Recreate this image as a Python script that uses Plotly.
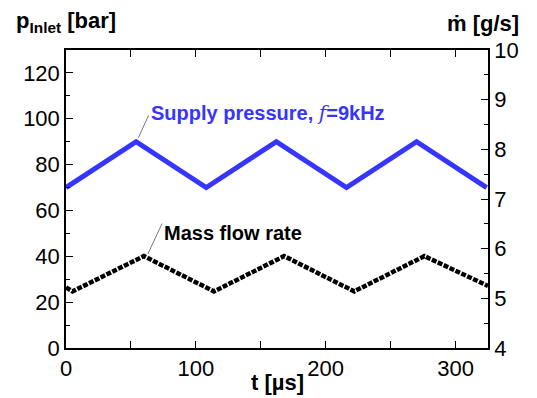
import plotly.graph_objects as go

# Supply pressure [bar] vs time [us]
t_p = [0, 54, 108, 162, 216, 270, 324]
p_inlet = [70, 90, 70, 90, 70, 90, 70]

# Mass flow rate [g/s] vs time [us]
t_m = [0, 5, 60, 114, 168, 222, 276, 325]
m_dot = [5.22, 5.14, 5.85, 5.14, 5.85, 5.14, 5.85, 5.25]

x_range = [0, 325]
y1_range = [0, 130]
y2_range = [4, 10]

AX = dict(family="Liberation Sans, Arial, sans-serif", size=22, color="black")

fig = go.Figure()
fig.add_trace(go.Scatter(x=t_p, y=p_inlet, mode="lines",
                         line=dict(color="#3535ff", width=5), yaxis="y"))
fig.add_trace(go.Scatter(x=t_m, y=m_dot, mode="lines",
                         line=dict(color="black", width=4.5, dash="5px,1.5px"), yaxis="y2"))

common = dict(showline=True, linecolor="black", linewidth=1.5, ticks="inside",
              tickcolor="black", ticklen=7, tickwidth=1.2, showgrid=False,
              zeroline=False, tickfont=AX)

fig.update_layout(
    width=537, height=398,
    margin=dict(l=66, r=49, t=50, b=50),
    paper_bgcolor="white", plot_bgcolor="white",
    showlegend=False,
    xaxis=dict(range=x_range, dtick=100, mirror="allticks",
               minor=dict(dtick=50, ticks="inside", ticklen=4, tickcolor="black"),
               **common),
    yaxis=dict(range=y1_range, dtick=20, tick0=0,
               minor=dict(dtick=10, ticks="inside", ticklen=4, tickcolor="black"),
               **common),
    yaxis2=dict(range=y2_range, dtick=1, overlaying="y", side="right",
                minor=dict(dtick=0.5, ticks="inside", ticklen=4, tickcolor="black"),
                **common),
)

BOLD = dict(family="Liberation Sans, Arial, sans-serif", size=22, color="black")
fig.add_annotation(text="<b>p<sub>Inlet</sub> [bar]</b>", xref="paper", yref="paper",
                   x=-0.123, y=1.0, xanchor="left", yanchor="bottom", yshift=12,
                   showarrow=False, font=BOLD)
fig.add_annotation(text="<b>ṁ [g/s]</b>", xref="paper", yref="paper",
                   x=1.0, y=1.0, xanchor="right", yanchor="bottom", yshift=12, xshift=33,
                   showarrow=False, font=BOLD)
fig.add_annotation(text="<b>t [µs]</b>", xref="paper", yref="paper",
                   x=0.5, y=0, xanchor="center", yanchor="top", yshift=-20,
                   showarrow=False, font=BOLD)

# leader lines
fig.add_annotation(x=55.7, y=91.7, xref="x", yref="y", text="", showarrow=True,
                   arrowhead=0, arrowwidth=0.8, arrowcolor="#555", ax=11, ay=-24)
fig.add_annotation(x=63, y=41, xref="x", yref="y", text="", showarrow=True,
                   arrowhead=0, arrowwidth=0.8, arrowcolor="#555", ax=15, ay=-32)

fig.add_annotation(x=64, y=102.5, xref="x", yref="y", xanchor="left", yanchor="middle",
                   showarrow=False,
                   text='<b>Supply pressure, </b><span style="font-family:DejaVu Serif;font-weight:normal"><i>f</i></span><b>=9kHz</b>',
                   font=dict(family="Liberation Sans, Arial, sans-serif", size=20, color="#3535ff"))
fig.add_annotation(x=74, y=50, xref="x", yref="y", xanchor="left", yanchor="middle",
                   showarrow=False, text="<b>Mass flow rate</b>",
                   font=dict(family="Liberation Sans, Arial, sans-serif", size=20, color="black"))

fig.write_html("out.html")
